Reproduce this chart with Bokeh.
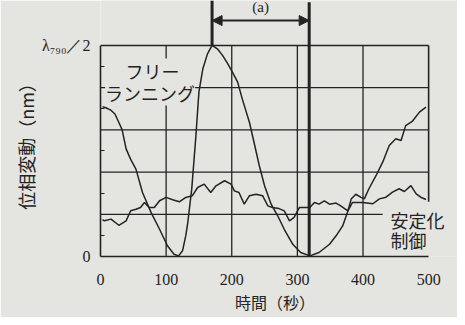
from bokeh.plotting import figure
from bokeh.models import Label, Arrow, NormalHead, FixedTicker
from bokeh.embed import file_html
from bokeh.resources import INLINE

# ---------------- data ----------------
# time in seconds, phase change in units of lambda_790/2
free_t = [3, 8, 15, 22, 28, 33, 39, 46, 54, 64, 77, 90, 102, 112, 119, 125, 130, 133,
          139, 145, 150, 156, 163, 170, 178, 186, 194, 201, 209, 216, 227, 234, 242,
          250, 260, 270, 280, 293, 305, 319, 333, 349, 359, 369, 377, 382, 389, 397,
          402, 409, 420, 430, 440, 450, 458, 465, 475, 486, 496]
free_v = [0.71, 0.705, 0.695, 0.675, 0.635, 0.60, 0.51, 0.46, 0.414, 0.303, 0.209,
          0.129, 0.051, 0.011, 0.003, 0.027, 0.10, 0.161, 0.319, 0.556, 0.78, 0.89,
          0.96, 1.0, 0.984, 0.953, 0.913, 0.874, 0.826, 0.747, 0.635, 0.54, 0.43,
          0.335, 0.248, 0.193, 0.129, 0.058, 0.019, 0.003, 0.019, 0.058, 0.098, 0.145,
          0.216, 0.272, 0.295, 0.28, 0.273, 0.321, 0.384, 0.447, 0.526, 0.558, 0.55,
          0.62, 0.64, 0.684, 0.708]

stab_t = [3, 6, 16, 28, 39, 46, 54, 61, 67, 74, 82, 90, 100, 110, 120, 130, 140, 148,
          158, 168, 176, 189, 199, 204, 211, 219, 227, 237, 247, 255, 262, 272, 280,
          288, 295, 303, 313, 319, 326, 333, 341, 349, 359, 366, 377, 384, 389, 394,
          400, 415, 425, 435, 445, 455, 463, 473, 481, 488, 496]
stab_v = [0.175, 0.169, 0.177, 0.148, 0.169, 0.217, 0.224, 0.232, 0.256, 0.232, 0.232,
          0.264, 0.28, 0.269, 0.259, 0.28, 0.288, 0.327, 0.343, 0.303, 0.335, 0.359,
          0.343, 0.311, 0.303, 0.248, 0.288, 0.295, 0.288, 0.24, 0.232, 0.227, 0.216,
          0.169, 0.185, 0.232, 0.232, 0.232, 0.256, 0.248, 0.264, 0.248, 0.253, 0.24,
          0.216, 0.256, 0.256, 0.256, 0.256, 0.25, 0.273, 0.281, 0.305, 0.321, 0.308,
          0.336, 0.297, 0.281, 0.27]

x_ticks = [0, 100, 200, 300, 400, 500]
y_grid = [0.2, 0.4, 0.6, 0.8]
y_minor = [0.1, 0.3, 0.5, 0.7, 0.9]
y_tick_labels = {0: "0", 1: "λ₇₉₀／2"}
period_marks = [170, 318]          # interval (a)
x_title = "時間（秒）"
y_title = "位相変動（nm）"

# ---------------- styling ----------------
BG = "#e4e4e1"
INK = "#232323"
JP = "Noto Sans CJK JP"
SERIF = "Liberation Serif"
PAD = "\u3000"   # invisible ideographic space, shifts the titles like the original

p = figure(width=457, height=317, x_range=(0, 544), y_range=(0, 1.213),
           output_backend="svg", toolbar_location=None,
           min_border_left=100, min_border_right=0, min_border_top=0,
           min_border_bottom=61)
p.background_fill_color = BG
p.border_fill_color = BG
p.outline_line_color = None
p.xgrid.visible = False
p.ygrid.visible = False

xa = p.xaxis[0]
xa.ticker = FixedTicker(ticks=x_ticks)
xa.bounds = (0, 500)
xa.major_tick_in = 0
xa.major_tick_out = 0
xa.minor_tick_line_color = None
xa.axis_line_color = INK
xa.axis_line_width = 1.6
xa.major_label_text_font = SERIF
xa.major_label_text_font_size = "16px"
xa.major_label_text_color = INK
xa.major_label_standoff = 17
xa.axis_label = x_title + PAD
xa.axis_label_text_font = JP
xa.axis_label_text_font_style = "normal"
xa.axis_label_text_font_size = "16px"
xa.axis_label_text_color = INK
xa.axis_label_standoff = 2

ya = p.yaxis[0]
ya.ticker = FixedTicker(ticks=[0, 1], minor_ticks=y_minor)
ya.bounds = (0, 1)
ya.major_tick_in = 0
ya.major_tick_out = 0
ya.minor_tick_in = 4
ya.minor_tick_out = 0
ya.minor_tick_line_color = INK
ya.minor_tick_line_width = 1.2
ya.axis_line_color = INK
ya.axis_line_width = 1.6
ya.major_label_overrides = y_tick_labels
ya.major_label_text_font = SERIF
ya.major_label_text_font_size = "16px"
ya.major_label_text_color = INK
ya.major_label_standoff = 10
ya.axis_label = y_title + PAD + PAD
ya.axis_label_text_font = JP
ya.axis_label_text_font_style = "normal"
ya.axis_label_text_font_size = "18px"
ya.axis_label_text_color = INK
ya.axis_label_standoff = 0

# grid lines
vx = x_ticks[1:-1]
p.segment(x0=vx, y0=[0] * len(vx), x1=vx, y1=[1] * len(vx), line_color=INK, line_width=1.3)
p.segment(x0=[0, 0, 0, 0], y0=y_grid, x1=[430, 500, 500, 500], y1=y_grid,
          line_color=INK, line_width=1.3)
# frame: top and (partial) right side
p.segment(x0=[0, 500], y0=[1, 0.26], x1=[500, 500], y1=[1, 1], line_color=INK, line_width=1.6)

# curves
p.line(free_t, free_v, line_color=INK, line_width=1.5)
p.line(stab_t, stab_v, line_color=INK, line_width=1.5)

# interval (a)
p.segment(x0=period_marks, y0=[1.0, 0], x1=period_marks, y1=[1.213, 1.205],
          line_color=INK, line_width=3)
p.add_layout(Arrow(start=NormalHead(size=10, fill_color=INK, line_color=INK),
                   end=NormalHead(size=10, fill_color=INK, line_color=INK),
                   x_start=period_marks[0], y_start=1.118,
                   x_end=period_marks[1], y_end=1.118,
                   line_color=INK, line_width=2))
p.add_layout(Label(x=244, y=1.18, text="(a)", text_font=SERIF, text_font_size="15px",
                   text_color=INK, text_align="center", text_baseline="middle"))

# curve labels
for txt, xx, yy in [("フリー", 38, 0.877), ("ランニング", 7, 0.777)]:
    p.add_layout(Label(x=xx, y=yy, text=txt, text_font=JP, text_font_size="18px",
                       text_color=INK, text_baseline="middle",
                       background_fill_color=BG))
for txt, xx, yy in [("安定化", 442, 0.175), ("制御", 442, 0.08)]:
    p.add_layout(Label(x=xx, y=yy, text=txt, text_font=JP, text_font_size="18px",
                       text_color=INK, text_baseline="middle"))

html = file_html(p, INLINE)
html = html.replace("<body>", '<body style="background:%s; margin:8px 0 0 8px; overflow:hidden;">' % BG, 1)
open("out.html", "w").write(html)
